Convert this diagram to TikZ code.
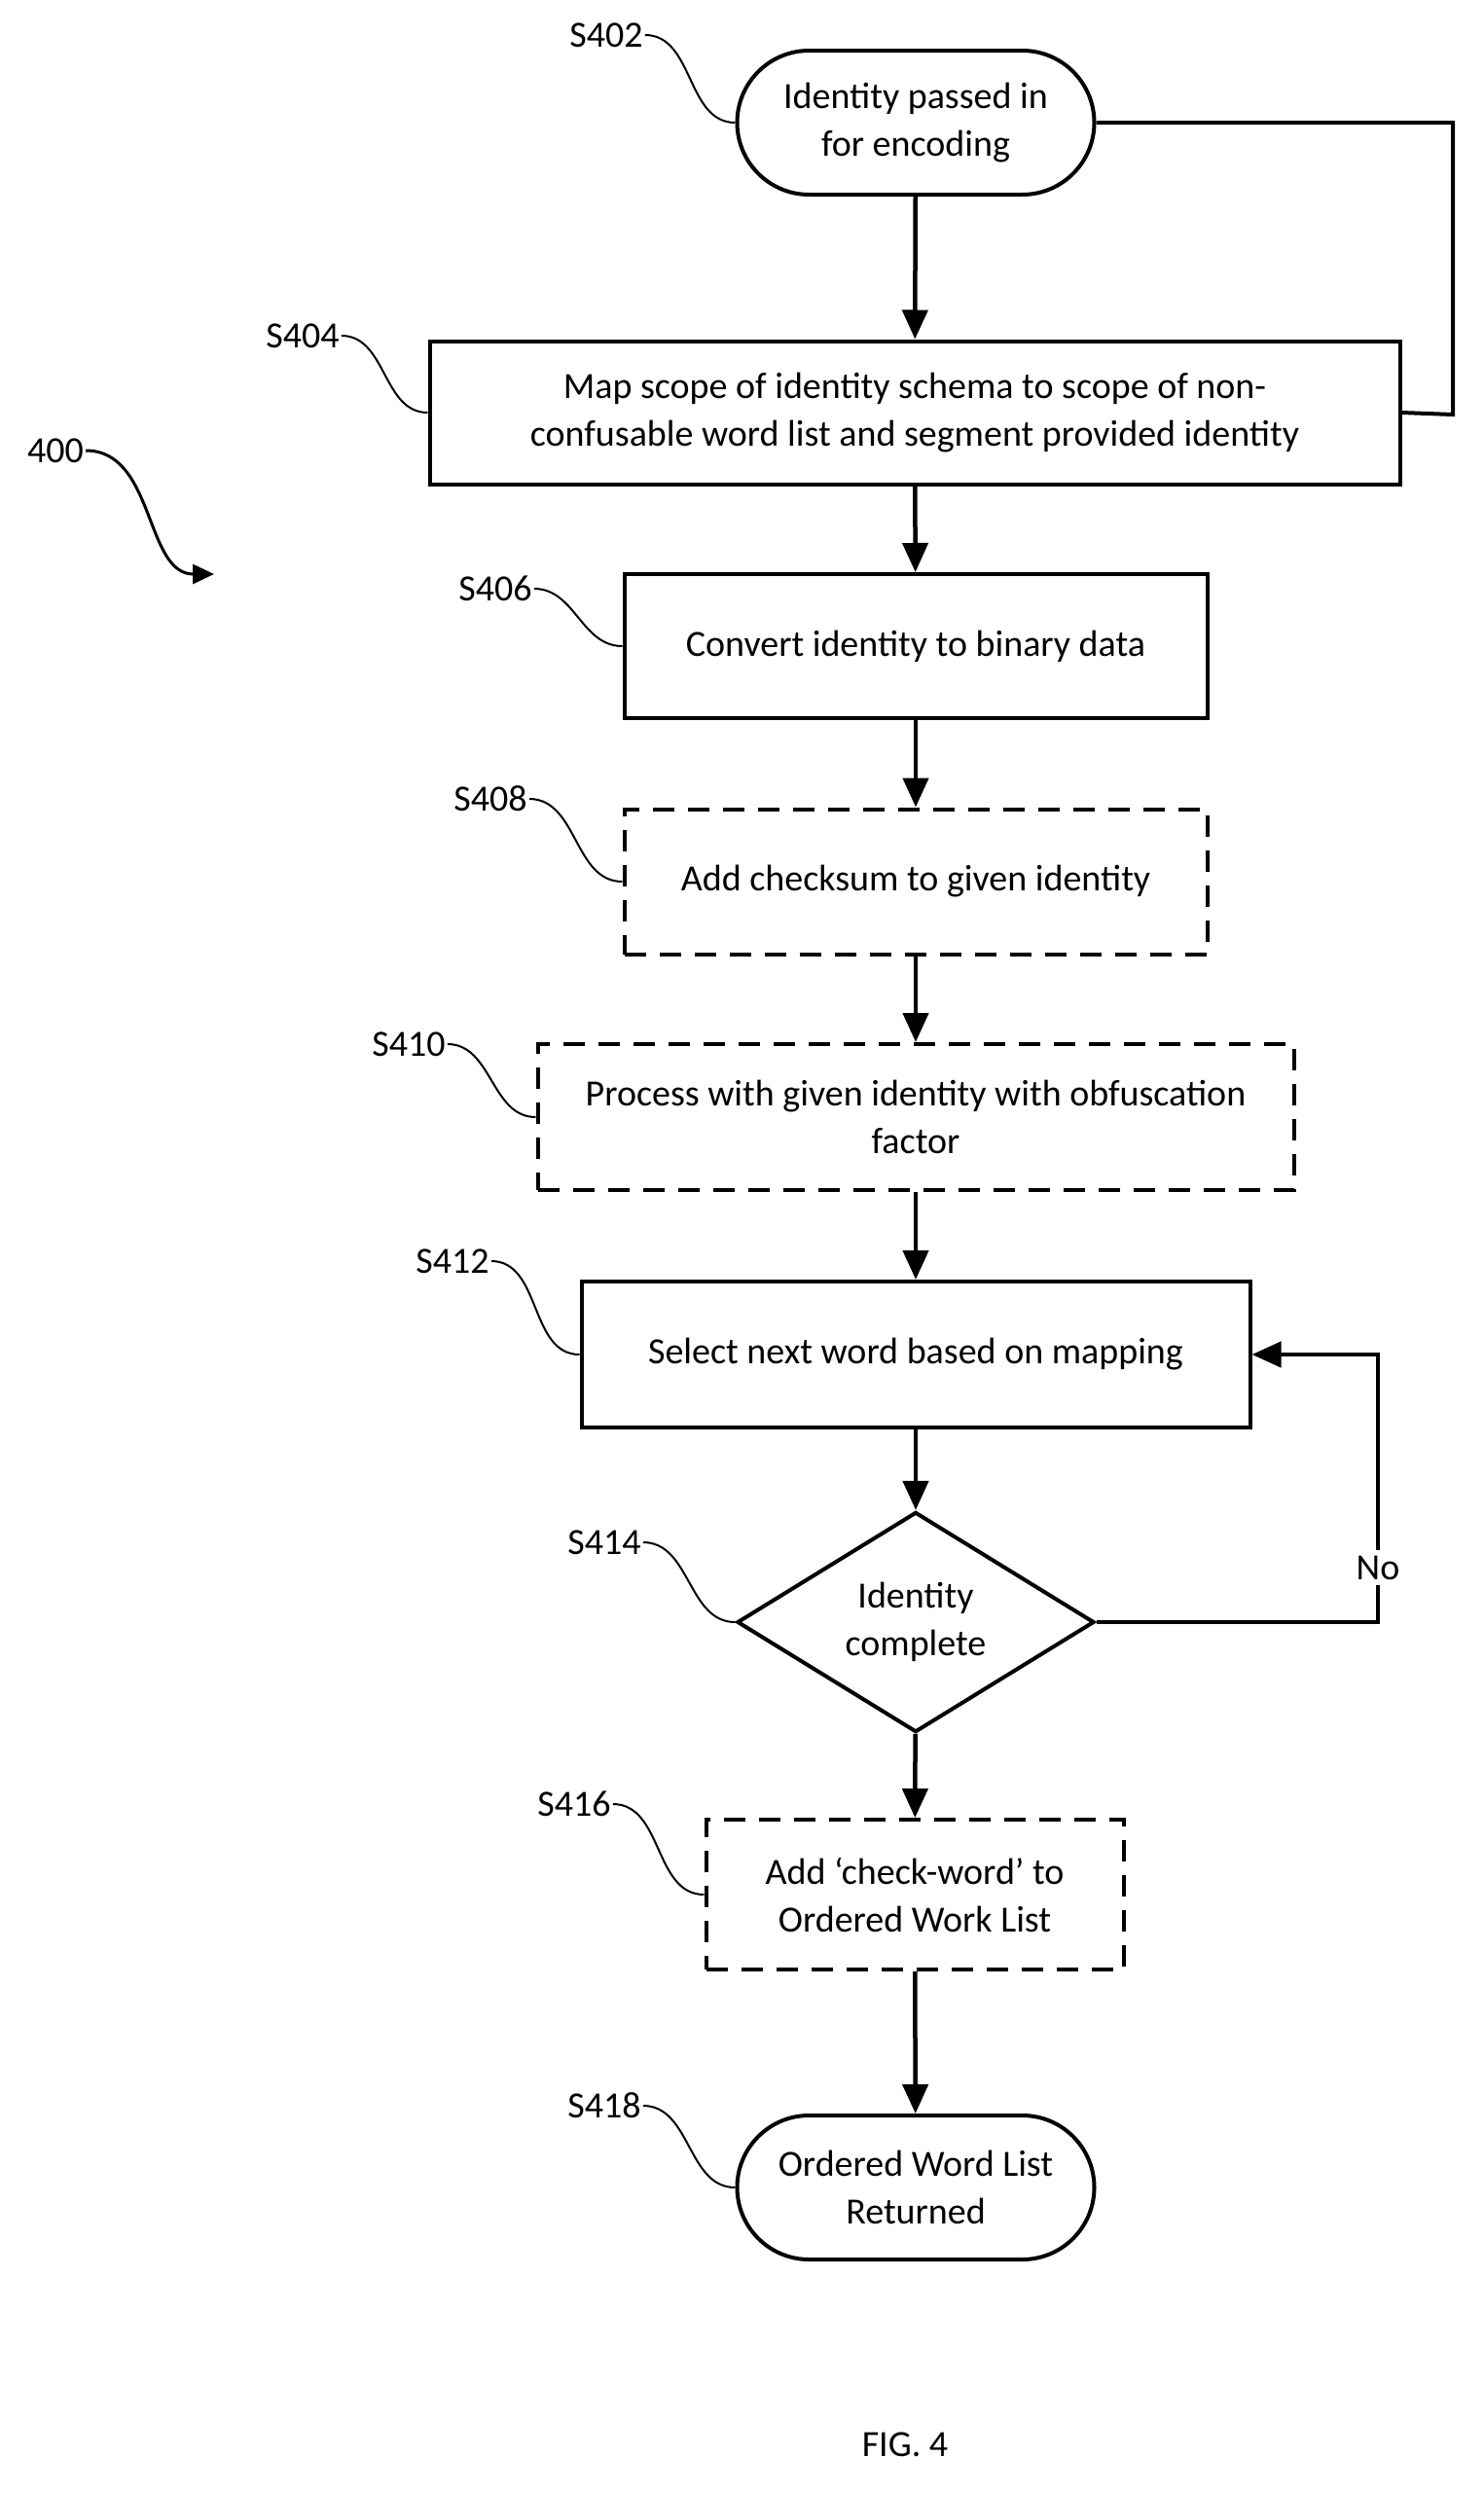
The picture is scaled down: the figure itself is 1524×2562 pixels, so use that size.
\documentclass[tikz,border=0pt]{standalone}
\usepackage{fontspec}
\setmainfont{Carlito}
\usetikzlibrary{shapes.geometric,arrows.meta}

\tikzset{
  stepbox/.style={draw, line width=4pt, align=center, inner sep=0pt},
  opt/.style={stepbox, dash pattern=on 22pt off 14pt},
  term/.style={stepbox, rounded corners=74pt, minimum width=367pt, minimum height=148pt},
  flow/.style={line width=4.5pt, -{Triangle[length=30pt,width=26pt]}},
  lead/.style={line width=2pt},
  tag/.style={inner sep=2pt}
}

\begin{document}
\begin{tikzpicture}[x=1pt, y=-1pt, font=\fontsize{38}{49}\selectfont]
\useasboundingbox (0,0) rectangle (1524,2562);

% Steps
\node[term] (s402) at (941,126) {Identity passed in\\for encoding};
\node[stepbox, minimum width=997pt, minimum height=147pt] (s404) at (940,424)
  {Map scope of identity schema to scope of non-\\confusable word list and segment provided identity};
\node[stepbox, minimum width=599pt, minimum height=148pt] (s406) at (941,664) {Convert identity to binary data};
\node[opt, minimum width=599pt, minimum height=149pt] (s408) at (941,906) {Add checksum to given identity};
\node[opt, minimum width=777pt, minimum height=150pt] (s410) at (941,1148)
  {Process with given identity with obfuscation\\factor};
\node[stepbox, minimum width=687pt, minimum height=150pt] (s412) at (941,1392) {Select next word based on mapping};
\node[stepbox, shape=diamond, minimum width=367pt, minimum height=219pt] (s414) at (941,1667) {Identity\\complete};
\node[opt, minimum width=429pt, minimum height=154pt] (s416) at (940,1947)
  {Add ‘check-word’ to\\Ordered Work List};
\node[term] (s418) at (941,2248) {Ordered Word List\\Returned};

% Flow
\draw[flow] (s402) -- (s404);
\draw[flow] (s404) -- (s406);
\draw[flow] (s406) -- (s408);
\draw[flow] (s408) -- (s410);
\draw[flow] (s410) -- (s412);
\draw[flow] (s412) -- (s414);
\draw[flow] (s414) -- (s416);
\draw[flow] (s416) -- (s418);
\draw[line width=4pt] (s402.east) -| (1493,426) -- (s404.east);
\draw[flow] (s414.east) -| (1416,1392) -- (s412.east);
\node[fill=white, inner sep=6pt] (no) at (1416,1611) {No};

% Step labels
\node[tag] (t402) at (623,36) {S402};
\node[tag] (t404) at (311,345) {S404};
\node[tag] (t406) at (509,605) {S406};
\node[tag] (t408) at (504,821) {S408};
\node[tag] (t410) at (420,1073) {S410};
\node[tag] (t412) at (465,1296) {S412};
\node[tag] (t414) at (621,1585) {S414};
\node[tag] (t416) at (590,1854) {S416};
\node[tag] (t418) at (621,2164) {S418};
\draw[lead] (t402.east) to[out=0,in=180] (s402.west);
\draw[lead] (t404.east) to[out=0,in=180] (s404.west);
\draw[lead] (t406.east) to[out=0,in=180] (s406.west);
\draw[lead] (t408.east) to[out=0,in=180] (s408.west);
\draw[lead] (t410.east) to[out=0,in=180] (s410.west);
\draw[lead] (t412.east) to[out=0,in=180] (s412.west);
\draw[lead] (t414.east) to[out=0,in=180] (s414.west);
\draw[lead] (t416.east) to[out=0,in=180] (s416.west);
\draw[lead] (t418.east) to[out=0,in=180] (s418.west);

% Figure reference
\node[tag] (fig) at (57,463) {400};
\coordinate (figend) at (220,590);
\draw[line width=3pt, -{Triangle[length=22pt,width=20pt]}] (fig.east) to[out=0,in=180] (figend);

\node (caption) at (930,2512) {FIG. 4};
\end{tikzpicture}
\end{document}
